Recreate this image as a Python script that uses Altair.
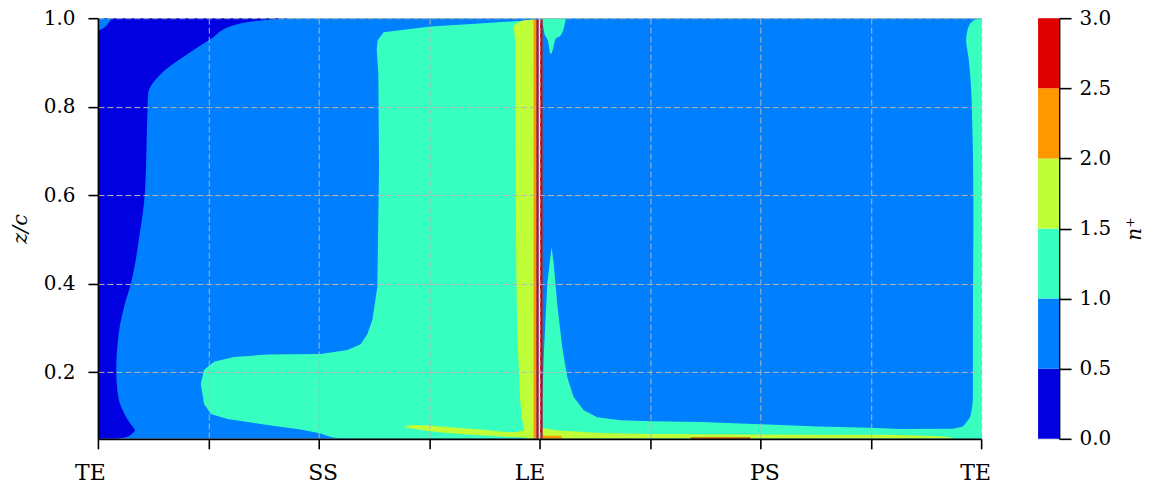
import altair as alt
import pandas as pd

# ---------------- levels / colours ----------------
LEVELS = [0.0, 0.5, 1.0, 1.5, 2.0, 2.5, 3.0]
LEVEL_COLORS = ["#0000e0", "#0080ff", "#37ffc0", "#c0ff37", "#ff9700", "#e00000"]

# ---------------- axes ----------------
X_RANGE = [0.0, 8.0]
Y_RANGE = [0.049, 1.0]
X_TICKS = [0, 1, 2, 3, 4, 5, 6, 7, 8]
X_TICK_LABELS = ["TE", "", "SS", "", "LE", "", "PS", "", "TE"]
X_LABEL_SHIFT = [-8, 0, 4, 0, -10, 0, 4, 0, -6]
Y_TICKS = [0.2, 0.4, 0.6, 0.8, 1.0]

# ---------------- contour regions ----------------
BASE_SS_X = [0.0, 3.991]
BASE_PS_X = [4.005, 8.0]

DARK_Y = [0.049, 0.053, 0.061, 0.068, 0.078, 0.087, 0.114, 0.144, 0.204, 0.264, 0.309,
          0.354, 0.400, 0.431, 0.505, 0.603, 0.799, 0.829, 0.874, 0.919, 0.953, 0.984,
          0.993, 0.998, 1.0]
DARK_XR = [0.16, 0.26, 0.31, 0.335, 0.31, 0.283, 0.224, 0.184, 0.166, 0.178, 0.202,
           0.244, 0.299, 0.326, 0.374, 0.425, 0.450, 0.455, 0.570, 0.812, 1.023, 1.231,
           1.412, 1.629, 1.75]

CORNER_Y = [0.972, 0.976, 0.983, 0.990, 0.995, 1.0]
CORNER_XR = [0.0, 0.04, 0.075, 0.10, 0.113, 0.118]

CYAN_SS_Y = [0.049, 0.053, 0.061, 0.070, 0.080, 0.094, 0.105, 0.128, 0.173, 0.205, 0.223,
             0.234, 0.2395, 0.241, 0.250, 0.263, 0.286, 0.318, 0.392, 0.663, 0.874, 0.928,
             0.950, 0.968, 0.981, 0.989, 0.996]
CYAN_SS_XL = [2.199, 2.109, 2.018, 1.837, 1.536, 1.174, 1.023, 0.962, 0.932, 0.962, 1.052,
              1.231, 1.536, 2.018, 2.260, 2.380, 2.441, 2.486, 2.531, 2.546, 2.540, 2.525,
              2.534, 2.588, 3.014, 3.527, 3.946]
CYAN_SS_XR = 3.95

YEL_LE_Y = [0.049, 0.076, 0.128, 0.205, 0.302, 0.663, 0.950, 0.980, 0.989, 0.995, 0.997]
YEL_LE_XL = [3.882, 3.855, 3.828, 3.813, 3.798, 3.783, 3.778, 3.767, 3.798, 3.855, 3.946]
YEL_LE_XR = 3.95

YEL_FOOT_X = [2.772, 2.860, 3.165, 3.466, 3.765, 3.88]
YEL_FOOT_LO = [0.076, 0.072, 0.062, 0.057, 0.053, 0.052]
YEL_FOOT_HI = [0.076, 0.080, 0.076, 0.070, 0.064, 0.070]

ORANGE_LE_X = [3.946, 3.973]
RED_LE_SS_X = [3.973, 3.991]
RED_LE_PS_X = [4.005, 4.027]
LE_TOP = 0.997

CYAN_BLOB_X = [4.027, 4.045, 4.075, 4.100, 4.118, 4.145, 4.190, 4.214, 4.235]
CYAN_BLOB_LO = [0.99, 0.965, 0.950, 0.919, 0.927, 0.953, 0.961, 0.972, 0.995]

CYAN_PS_X = [4.027, 4.039, 4.054, 4.070, 4.109, 4.129, 4.160, 4.205, 4.251, 4.308, 4.398,
             4.522, 4.733, 5.005, 5.457, 6.000, 6.513, 6.995, 7.267, 7.747, 7.837, 7.900]
CYAN_PS_HI = [0.151, 0.241, 0.318, 0.400, 0.482, 0.445, 0.354, 0.257, 0.189, 0.144, 0.114,
              0.098, 0.091, 0.089, 0.087, 0.082, 0.077, 0.074, 0.071, 0.072, 0.077, 0.098]

CYAN_TE_Y = [0.049, 0.072, 0.077, 0.098, 0.144, 0.272, 0.573, 0.799, 0.912, 0.950, 0.980,
             0.995, 0.999]
CYAN_TE_XL = [7.80, 7.80, 7.837, 7.900, 7.925, 7.925, 7.930, 7.916, 7.885, 7.864, 7.885,
              7.930, 7.973]

YEL_PS_X = [4.027, 4.10, 4.30, 4.55, 5.00, 6.00, 7.00, 7.50, 7.70, 7.76]
YEL_PS_HI = [0.074, 0.070, 0.066, 0.062, 0.060, 0.059, 0.058, 0.056, 0.053, 0.049]

ORANGE_PS_X = [4.027, 4.20]
ORANGE_PS_HI = 0.056
RED_PS_X = [5.37, 5.91]
RED_PS_HI = 0.052

# ---------------- shared scale / axis definitions ----------------
FONT = "DejaVu Serif"
XS = alt.Scale(domain=X_RANGE, nice=False, zero=False)
YS = alt.Scale(domain=Y_RANGE, nice=False, zero=False)

lab_js = "[" + ",".join("'%s'" % s for s in X_TICK_LABELS) + "]"
off_js = "[" + ",".join(str(v) for v in X_LABEL_SHIFT) + "]"

X_AXIS = alt.Axis(
    values=X_TICKS, title=None,
    labelExpr=lab_js + "[round(datum.value)]",
    labelOffset={"expr": off_js + "[round(datum.value)]"},
    labelFlush=False,
    labelFont=FONT, labelFontSize=22, labelColor="black", labelPadding=14,
    tickSize=10, tickWidth=1.6, tickColor="black",
    domainColor="black", domainWidth=1.6,
    grid=True, gridColor="#b4b4b4", gridDash=[6, 3], gridWidth=1,
    zindex=1,
)
Y_AXIS = alt.Axis(
    values=Y_TICKS, format=".1f", title="z/c", labelFlush=False,
    titleFont=FONT, titleFontSize=21, titleFontStyle="italic", titleFontWeight="normal",
    titleColor="black", titlePadding=13,
    labelFont=FONT, labelFontSize=20, labelColor="black", labelPadding=13,
    tickSize=10, tickWidth=1.6, tickColor="black",
    domainColor="black", domainWidth=1.6,
    grid=True, gridColor="#b4b4b4", gridDash=[6, 3], gridWidth=1,
    zindex=1,
)


def rect_layer(xs, ylo, yhi, level):
    df = pd.DataFrame({"xa": [xs[0]], "xb": [xs[1]], "ya": [ylo], "yb": [yhi]})
    return alt.Chart(df).mark_rect(color=LEVEL_COLORS[level], clip=True).encode(
        x=alt.X("xa:Q", scale=XS, axis=X_AXIS), x2="xb:Q",
        y=alt.Y("ya:Q", scale=YS, axis=Y_AXIS), y2="yb:Q",
    )


def harea_layer(ys, xl, xr, level, interp="monotone"):
    n = len(ys)
    xl = xl if isinstance(xl, list) else [xl] * n
    xr = xr if isinstance(xr, list) else [xr] * n
    df = pd.DataFrame({"ya": ys, "xa": xl, "xb": xr})
    return alt.Chart(df).mark_area(
        color=LEVEL_COLORS[level], clip=True, interpolate=interp
    ).encode(
        y=alt.Y("ya:Q", scale=YS, axis=Y_AXIS),
        x=alt.X("xa:Q", scale=XS, axis=X_AXIS), x2="xb:Q",
    )


def varea_layer(xs, ylo, yhi, level, interp="monotone"):
    n = len(xs)
    ylo = ylo if isinstance(ylo, list) else [ylo] * n
    yhi = yhi if isinstance(yhi, list) else [yhi] * n
    df = pd.DataFrame({"xa": xs, "ya": ylo, "yb": yhi})
    return alt.Chart(df).mark_area(
        color=LEVEL_COLORS[level], clip=True, interpolate=interp
    ).encode(
        x=alt.X("xa:Q", scale=XS, axis=X_AXIS),
        y=alt.Y("ya:Q", scale=YS, axis=Y_AXIS), y2="yb:Q",
    )


Y0, Y1 = Y_RANGE
layers = [
    rect_layer(BASE_SS_X, Y0, Y1, 1),
    rect_layer(BASE_PS_X, Y0, Y1, 1),
    harea_layer(DARK_Y, X_RANGE[0], DARK_XR, 0),
    harea_layer(CORNER_Y, X_RANGE[0], CORNER_XR, 1),
    harea_layer(CYAN_SS_Y, CYAN_SS_XL, CYAN_SS_XR, 2, "linear"),
    varea_layer(CYAN_PS_X, Y0, CYAN_PS_HI, 2, "linear"),
    harea_layer(CYAN_TE_Y, CYAN_TE_XL, X_RANGE[1], 2),
    varea_layer(CYAN_BLOB_X, CYAN_BLOB_LO, Y1, 2),
    harea_layer(YEL_LE_Y, YEL_LE_XL, YEL_LE_XR, 3),
    varea_layer(YEL_FOOT_X, YEL_FOOT_LO, YEL_FOOT_HI, 3),
    varea_layer(YEL_PS_X, Y0, YEL_PS_HI, 3),
    rect_layer(ORANGE_LE_X, Y0, LE_TOP, 4),
    rect_layer(ORANGE_PS_X, Y0, ORANGE_PS_HI, 4),
    rect_layer(RED_LE_SS_X, Y0, LE_TOP, 5),
    rect_layer(RED_LE_PS_X, Y0, LE_TOP, 5),
    rect_layer(RED_PS_X, Y0, RED_PS_HI, 5),
]
main = alt.layer(*layers).properties(width=884, height=421)

# ---------------- colour bar ----------------
cb_df = pd.DataFrame({
    "lo": LEVELS[:-1], "hi": LEVELS[1:],
    "level": [str(v) for v in LEVELS[:-1]],
    "c0": [0] * 6, "c1": [1] * 6,
})
colorbar = alt.Chart(cb_df).mark_rect().encode(
    x=alt.X("c0:Q", scale=alt.Scale(domain=[0, 1], nice=False), axis=None), x2="c1:Q",
    y=alt.Y("lo:Q", scale=alt.Scale(domain=[LEVELS[0], LEVELS[-1]], nice=False),
            axis=alt.Axis(orient="right", values=LEVELS, format=".1f", title="n⁺",
                          labelFlush=False,
                          titleFont=FONT, titleFontSize=20, titleFontStyle="italic",
                          titleFontWeight="normal", titleColor="black", titleAngle=270,
                          titleBaseline="top", titlePadding=14,
                          labelFont=FONT, labelFontSize=20, labelColor="black", labelPadding=8,
                          tickSize=12, tickWidth=1.6, tickColor="black",
                          domainColor="black", domainWidth=1.6, grid=False)),
    y2="hi:Q",
    color=alt.Color("level:N", scale=alt.Scale(domain=[str(v) for v in LEVELS[:-1]],
                                               range=LEVEL_COLORS), legend=None),
).properties(width=21, height=421)

chart = alt.hconcat(main, colorbar, spacing=46).properties(
    padding={"left": 0, "top": -1, "right": 0, "bottom": 0}
).configure_view(stroke="black", strokeWidth=1.6).configure(font=FONT)

chart.save("out.html", embed_options={"renderer": "svg", "actions": False})
